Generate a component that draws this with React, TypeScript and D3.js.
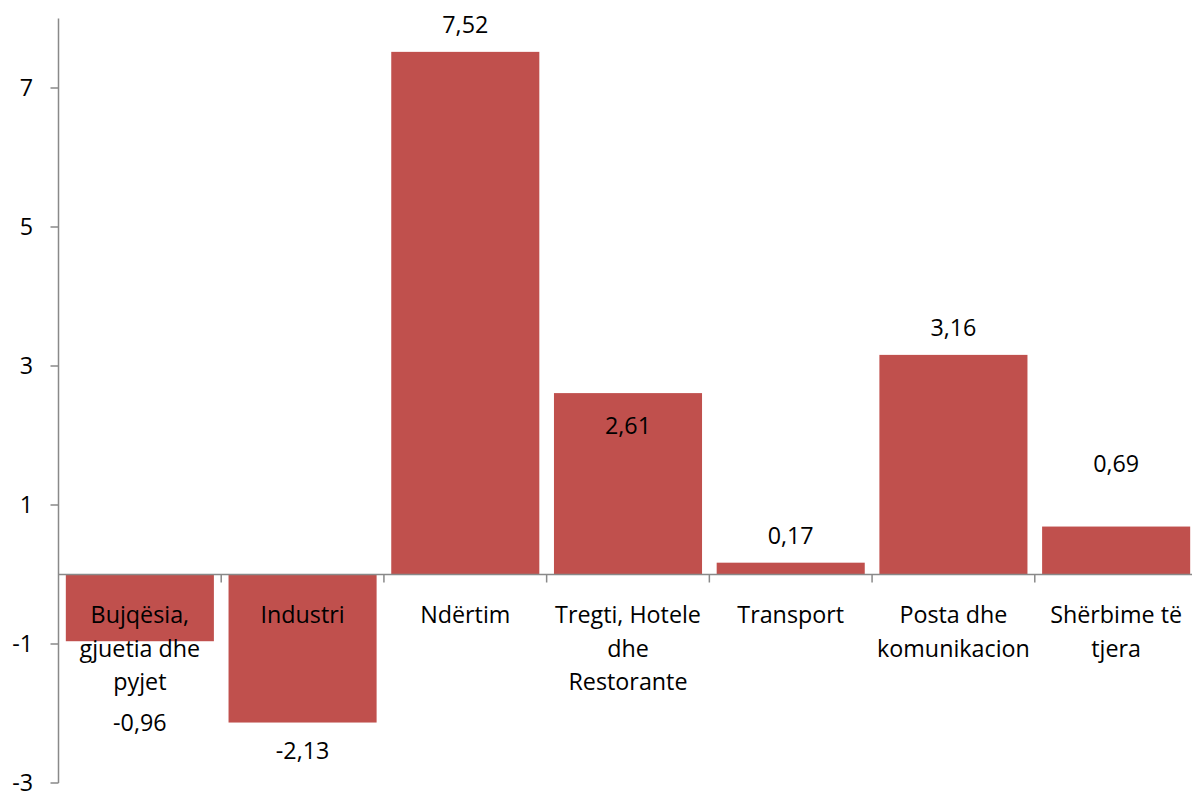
import React from "react";
import * as d3 from "d3";

const categories = [
  "Bujqësia, gjuetia dhe pyjet",
  "Industri",
  "Ndërtim",
  "Tregti, Hotele dhe Restorante",
  "Transport",
  "Posta dhe komunikacion",
  "Shërbime të tjera",
];
const categoryLines = [
  ["Bujqësia,", "gjuetia dhe", "pyjet"],
  ["Industri"],
  ["Ndërtim"],
  ["Tregti, Hotele", "dhe", "Restorante"],
  ["Transport"],
  ["Posta dhe", "komunikacion"],
  ["Shërbime të", "tjera"],
];
const values = [-0.96, -2.13, 7.52, 2.61, 0.17, 3.16, 0.69];
const valueLabels = ["-0,96", "-2,13", "7,52", "2,61", "0,17", "3,16", "0,69"];
const yTicks = [-3, -1, 1, 3, 5, 7];
// label baseline offset from bar end (px); positive values go downward
const labelShift = [90, 36, -19, 41, -19, -19, -55];

const W = 1192;
const H = 792;
const FONT = "'Open Sans', 'Noto Sans', sans-serif";
const FS = 23.3;
const AXIS = "#898989";
const BAR = "#C0504D";

export default function App() {
  const y = d3.scaleLinear().domain([-3, 8]).range([783, 18.5]);
  const x = d3
    .scaleBand<string>()
    .domain(categories)
    .range([58.5, 1197.5])
    .paddingInner(0.09)
    .paddingOuter(0.045);
  const y0 = y(0);
  const step = x.step();
  const x0 = 58.5;

  return (
    <svg
      width={W}
      height={H}
      style={{ position: "absolute", left: 0, top: 0, background: "#fff" }}
      fontFamily={FONT}
      fontSize={FS}
    >
      {values.map((v, i) => {
        const top = y(Math.max(0, v));
        const bot = y(Math.min(0, v));
        return (
          <rect
            key={i}
            x={x(categories[i])}
            y={top}
            width={x.bandwidth()}
            height={bot - top}
            fill={BAR}
          />
        );
      })}
      <line x1={x0} x2={x0} y1={y(8)} y2={y(-3)} stroke={AXIS} strokeWidth={1.5} />
      {yTicks.map((t) => (
        <g key={t}>
          <line x1={x0 - 8} x2={x0} y1={y(t)} y2={y(t)} stroke={AXIS} strokeWidth={1.5} />
          <text x={33} y={y(t)} dy="0.36em" textAnchor="end" fill="#000">
            {t}
          </text>
        </g>
      ))}
      <line x1={x0} x2={W} y1={y0} y2={y0} stroke={AXIS} strokeWidth={1.5} />
      {categories.map((_, i) => (
        <line
          key={i}
          x1={x0 + step * (i + 1)}
          x2={x0 + step * (i + 1)}
          y1={y0}
          y2={y0 + 8}
          stroke={AXIS}
          strokeWidth={1.5}
        />
      ))}
      {categories.map((c, i) => {
        const cx = (x(c) as number) + x.bandwidth() / 2;
        return (
          <text key={c} x={cx} textAnchor="middle" fill="#000">
            {categoryLines[i].map((l, j) => (
              <tspan key={j} x={cx} y={623 + j * 33.5}>
                {l}
              </tspan>
            ))}
          </text>
        );
      })}
      {values.map((v, i) => {
        const cx = (x(categories[i]) as number) + x.bandwidth() / 2;
        const end = y(v);
        return (
          <text key={i} x={cx} y={end + labelShift[i]} textAnchor="middle" fill="#000">
            {valueLabels[i]}
          </text>
        );
      })}
    </svg>
  );
}
